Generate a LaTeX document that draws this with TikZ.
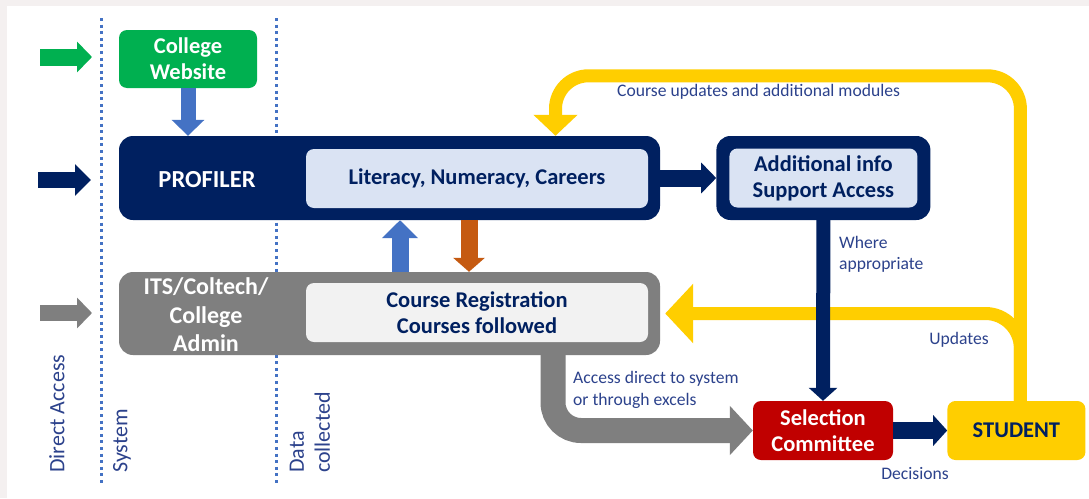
\documentclass[tikz,border=0pt]{standalone}
\usepackage{fontspec}
\setmainfont{Carlito}
\usetikzlibrary{arrows.meta,positioning}
\definecolor{navy}{RGB}{0,32,96}
\definecolor{litblue}{RGB}{218,227,243}
\definecolor{webgreen}{RGB}{0,176,80}
\definecolor{arrblue}{RGB}{68,114,196}
\definecolor{arrorange}{RGB}{197,90,17}
\definecolor{admgrey}{RGB}{127,127,127}
\definecolor{reggrey}{RGB}{242,242,242}
\definecolor{selred}{RGB}{192,0,0}
\definecolor{studyellow}{RGB}{255,206,0}
\definecolor{lblblue}{RGB}{44,66,140}
\definecolor{edge}{RGB}{244,240,240}

\begin{document}
\begin{tikzpicture}[x=1pt, y=-1pt,
    font=\bfseries\fontsize{22.5}{26}\selectfont,
    box/.style = {rounded corners=8pt, align=center, inner sep=0pt},
    frame/.style = {rounded corners=14pt, minimum width=541pt, minimum height=84pt},
    flow/.style n args = {3}{line width=#1, -{Triangle[length=#2, width=#3]}},
    lbl/.style = {text=lblblue, font=\fontsize{17.6}{21.5}\selectfont, inner sep=0pt},
    vlbl/.style = {lbl, font=\fontsize{22}{26}\selectfont, rotate=90, anchor=west},
    dotline/.style = {draw=arrblue, line width=3pt, dash pattern=on 3pt off 3.6pt}]
    \useasboundingbox (0,0) rectangle (1089,498);
    \fill[edge] (0,0) rectangle (1089,498);
    \fill[white] (7,6) rectangle (1089,498);

    \draw[dotline] (101,18) -- (101,483);
    \draw[dotline] (276,18) -- (276,483);

    \node[box, fill=webgreen, text=white, minimum width=138pt, minimum height=58pt] (web) at (188,59) {College\\Website};
    \node[box, frame, fill=navy] (prof) at (389.5,178) {};
    \node[text=white, font=\bfseries\fontsize{24.5}{28}\selectfont] (proftxt) at (207,180) {PROFILER};
    \node[box, fill=litblue, text=navy, minimum width=342pt, minimum height=59pt] (lit) at (477,178.5) {Literacy, Numeracy, Careers};
    \node[box, frame, fill=navy, minimum width=214pt, right=56pt of prof] (addbox) {};
    \node[box, fill=litblue, text=navy, minimum width=188pt, minimum height=59pt] (add) at (addbox.center) {Additional info\\Support Access};
    \node[box, frame, fill=admgrey, minimum height=83pt] (its) at (389.5,313.5) {};
    \node[text=white, align=center, font=\bfseries\fontsize{24}{28.5}\selectfont] (itstxt) at (206,315) {ITS/Coltech/\\College\\Admin};
    \node[box, fill=reggrey, text=navy, minimum width=342pt, minimum height=59pt] (reg) at (477,312.5) {Course Registration\\Courses followed};
    \node[box, fill=selred, text=white, minimum width=140pt, minimum height=59pt] (sel) at (823,430.5) {Selection\\Committee};
    \node[box, fill=studyellow, text=navy, minimum width=138pt, minimum height=59pt, right=54pt of sel] (stud) {STUDENT};

    \coordinate (g0) at (40,57);  \coordinate (g1) at (92,57);
    \coordinate (n0) at (38,180); \coordinate (n1) at (91,180);
    \coordinate (a0) at (40,313); \coordinate (a1) at (92,313);
    \draw[flow={17pt}{15pt}{30pt}, draw=webgreen] (g0) -- (g1);
    \draw[flow={16pt}{16pt}{31pt}, draw=navy] (n0) -- (n1);
    \draw[flow={16pt}{15pt}{30pt}, draw=admgrey] (a0) -- (a1);

    \draw[flow={13pt}{21pt}{43pt}, draw=studyellow, rounded corners=33pt] ([xshift=4pt]stud.north) -- ++(0,-325) -| ([xshift=166pt]prof.north);
    \draw[flow={13pt}{28pt}{58pt}, draw=studyellow, rounded corners=35pt] ([xshift=4pt]stud.north) |- ([xshift=5pt]its.east);
    \draw[flow={15pt}{16pt}{32pt}, draw=arrblue] (web.south) -- (web.south |- prof.north);
    \draw[flow={17pt}{18pt}{35pt}, draw=arrblue] ([xshift=10.5pt]its.north) -- ([xshift=10.5pt]prof.south);
    \draw[flow={17pt}{14pt}{31pt}, draw=arrorange] ([xshift=79.5pt]prof.south) -- ([xshift=79.5pt]its.north);
    \draw[flow={17pt}{15pt}{30pt}, draw=navy] (prof) -- (addbox);
    \draw[flow={14pt}{13pt}{28pt}, draw=navy] (addbox.south) -- (sel.north);
    \draw[flow={17pt}{14pt}{30pt}, draw=navy] (sel) -- (stud);
    \draw[flow={25pt}{23pt}{48pt}, draw=admgrey, rounded corners=28pt] ([xshift=163.5pt]its.south) |- (sel.west);

    \node[lbl, anchor=west] (cu) at (617,92) {Course updates and additional modules};
    \node[lbl, align=left, anchor=north west] (wa) at (839,236) {Where\\appropriate};
    \node[lbl] (upd) at (959,340) {Updates};
    \node[lbl, align=left, anchor=west] (acc) at (573,390) {Access direct to system\\or through excels};
    \node[lbl] (dec) at (915,474) {Decisions};

    \node[vlbl] (da) at (57,473) {Direct Access};
    \node[vlbl] (sys) at (122,473) {System};
    \node[vlbl, align=left] (dc) at (310,473) {Data\\collected};
\end{tikzpicture}
\end{document}
